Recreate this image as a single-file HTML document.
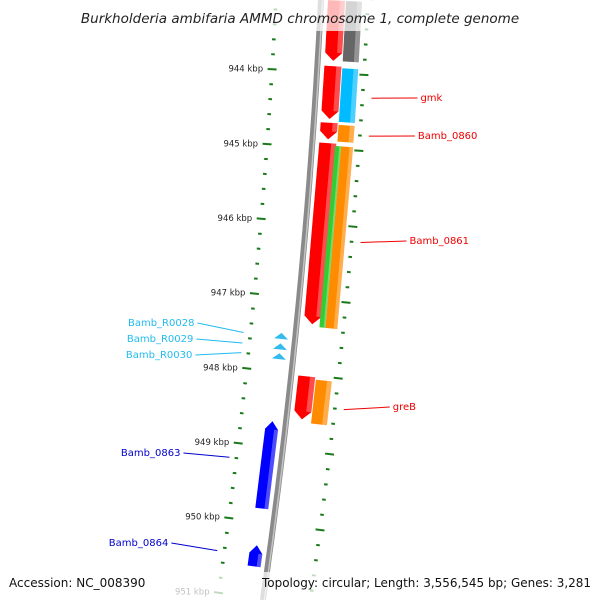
<!DOCTYPE html>
<html><head><meta charset="utf-8"><style>
html,body{margin:0;padding:0;background:#fff;width:600px;height:600px;overflow:hidden;}
svg{display:block;font-family:"Liberation Sans","DejaVu Sans",sans-serif;}
</style></head><body>
<svg id="map" width="600" height="600" viewBox="0 0 600 600" xmlns="http://www.w3.org/2000/svg" overflow="hidden">
<g id="ticks"></g>
<path id="backbone" fill="none" stroke="#8a8a8a" stroke-width="6"/>
<path id="backbone2" fill="none" stroke="#c4c4c4" stroke-width="1.5"/>
<g id="features"></g>
<g id="labels"></g>
<rect x="0" y="0" width="600" height="31" fill="#fff" fill-opacity="0.72"/>
<rect x="0" y="572" width="600" height="28" fill="#fff" fill-opacity="0.72"/>
<text x="300" y="23" text-anchor="middle" font-size="13.5" font-style="italic" font-family="DejaVu Sans, sans-serif" fill="#222">Burkholderia ambifaria AMMD chromosome 1, complete genome</text>
<text x="9" y="587" font-size="12" font-family="DejaVu Sans, sans-serif" fill="#111">Accession: NC_008390</text>
<text x="591" y="587" text-anchor="end" font-size="12" font-family="DejaVu Sans, sans-serif" fill="#111" textLength="329" lengthAdjust="spacingAndGlyphs">Topology: circular; Length: 3,556,545 bp; Genes: 3,281</text>
</svg>
<script>
// data arrays
const featNames   = ['red1','gray1','gmk','cyan1','Bamb_0860','orange1','Bamb_0861','green1','orange2','greB','orange3','Bamb_0863','Bamb_0864'];
const featStarts  = [943.04,943.04,943.91,943.93,944.66,944.68,944.93,944.96,944.96,948.02,948.05,948.66,950.31];
const featEnds    = [943.84,943.84,944.61,944.64,944.88,944.90,947.33,947.36,947.36,948.59,948.63,949.82,950.59];
const featStrand  = [1,1,1,1,1,1,1,1,1,1,1,-1,-1];
const featColors  = ['#ff0000','#666666','#ff0000','#00bbff','#ff0000','#ff8c00','#ff0000','#33cc33','#ff8c00','#ff0000','#ff8c00','#0000ff','#0000ff'];
const featTrack   = [0,1,0,1,0,1,0,2,3,0,1,0,0];
const featArrow   = [1,0,1,0,1,0,1,0,0,1,0,1,1];
const rnaPos      = [947.53,947.67,947.80];
const tickMajor   = [943,944,945,946,947,948,949,950,951];
const tickLabels  = ['943 kbp','944 kbp','945 kbp','946 kbp','947 kbp','948 kbp','949 kbp','950 kbp','951 kbp'];
const labelTexts  = ['gmk','Bamb_0860','Bamb_0861','greB','Bamb_R0028','Bamb_R0029','Bamb_R0030','Bamb_0863','Bamb_0864'];
const labelKbp    = [944.3,944.8,946.2,948.4,947.53,947.67,947.80,949.2,950.45];
const labelColors = ['#ee0000','#ee0000','#ee0000','#ee0000','#22bbee','#22bbee','#22bbee','#0000cc','#0000cc'];
const labelSide   = [1,1,1,1,-1,-1,-1,-1,-1];
const labelY      = [97,135,240,406,322,338,354,452,542];

const NS='http://www.w3.org/2000/svg';
function bx(y){return 321-0.05*y-0.000078*y*y;}
function bxd(y){return -0.05-0.000156*y;}
function yOf(k){return 72+(k-944)*75.3;}
function pt(k,off){const y=yOf(k);const d=bxd(y);const n=Math.hypot(1,d);return [bx(y)+off/n, y+off*(-d)/n];}
function mk(tag,attrs,parent){const e=document.createElementNS(NS,tag);for(const a in attrs)e.setAttribute(a,attrs[a]);parent.appendChild(e);return e;}
function P(a){return a.map(p=>p[0].toFixed(1)+','+p[1].toFixed(1)).join(' ');}

let d='';for(let y=-10;y<=600;y+=10){d+=(y===-10?'M':'L')+bx(y).toFixed(1)+','+y;}
document.getElementById('backbone').setAttribute('d',d);
let d2='';for(let y=-10;y<=600;y+=10){d2+=(y===-10?'M':'L')+(bx(y)+1.5).toFixed(1)+','+y;}
document.getElementById('backbone2').setAttribute('d',d2);

const trackIn=[7,25,23,29], trackOut=[24,41,29,41];
const fg=document.getElementById('features');
for(let i=0;i<featNames.length;i++){
  let a,b;
  if(featStrand[i]>0){a=trackIn[featTrack[i]];b=trackOut[featTrack[i]];}
  else{a=-20;b=-7;}
  const s=featStarts[i], e=featEnds[i], tip=8/75.3, mid=(a+b)/2;
  let pts;
  if(!featArrow[i]) pts=[pt(s,a),pt(s,b),pt(e,b),pt(e,a)];
  else if(featStrand[i]>0) pts=[pt(s,a),pt(s,b),pt(e-tip,b),pt(e,mid),pt(e-tip,a)];
  else pts=[pt(s+tip,a),pt(s,mid),pt(s+tip,b),pt(e,b),pt(e,a)];
  const poly=mk('polygon',{points:P(pts),fill:featColors[i]},fg);
  
  
  const h0=b-(b-a)*0.3;
  const hs=featArrow[i]&&featStrand[i]<0?s+tip:s, he=featArrow[i]&&featStrand[i]>0?e-tip:e;
  const hl=mk('polygon',{points:P([pt(hs,h0),pt(hs,b),pt(he,b),pt(he,h0)]),fill:'#fff','fill-opacity':0.3},fg);
  
  
}
for(let i=0;i<rnaPos.length;i++){
  const k=rnaPos[i], w=2.5/75.3;
  const t=mk('polygon',{points:P([pt(k+w,-21),pt(k-w*1.4,-14),pt(k+w,-7)]),fill:'#33bbee'},fg);
  
  
}

const tg=document.getElementById('ticks');
for(let k=942.8;k<=951.25;k+=0.2){
  const major=Math.abs(k-Math.round(k))<0.01;
  [-45,47].forEach(off=>{
    const L=major?4.5:1.8;
    const p1=pt(k,off-L),p2=pt(k,off+L);
    if(p1[1]>598||p2[1]>598) return;
    const l=mk('line',{x1:p1[0],y1:p1[1],x2:p2[0],y2:p2[1],stroke:'#1a7a1a','stroke-width':2},tg);
    
    
  });
}
for(let i=0;i<tickMajor.length;i++){
  const p=pt(tickMajor[i],-54);
  if(p[1]>598) continue;
  const t=mk('text',{x:p[0],y:p[1]+3,'text-anchor':'end','font-size':8.5,fill:'#222','font-family':'DejaVu Sans, sans-serif'},tg);
  t.textContent=tickLabels[i];
  
  
}

const lg=document.getElementById('labels');
for(let i=0;i<labelTexts.length;i++){
  const side=labelSide[i];
  const p=pt(labelKbp[i],side>0?56:-52);
  const ly=labelY[i];
  const lx=side>0?p[0]+46:p[0]-46;
  const ln=mk('line',{x1:p[0],y1:p[1],x2:lx,y2:ly+1,stroke:labelColors[i],'stroke-width':1},lg);
  
  
  const t=mk('text',{x:side>0?lx+3:lx-3,y:ly+4,'text-anchor':side>0?'start':'end','font-size':10,fill:labelColors[i],'font-family':'DejaVu Sans, sans-serif'},lg);
  t.textContent=labelTexts[i];
  
  
}
</script>
</body></html>
